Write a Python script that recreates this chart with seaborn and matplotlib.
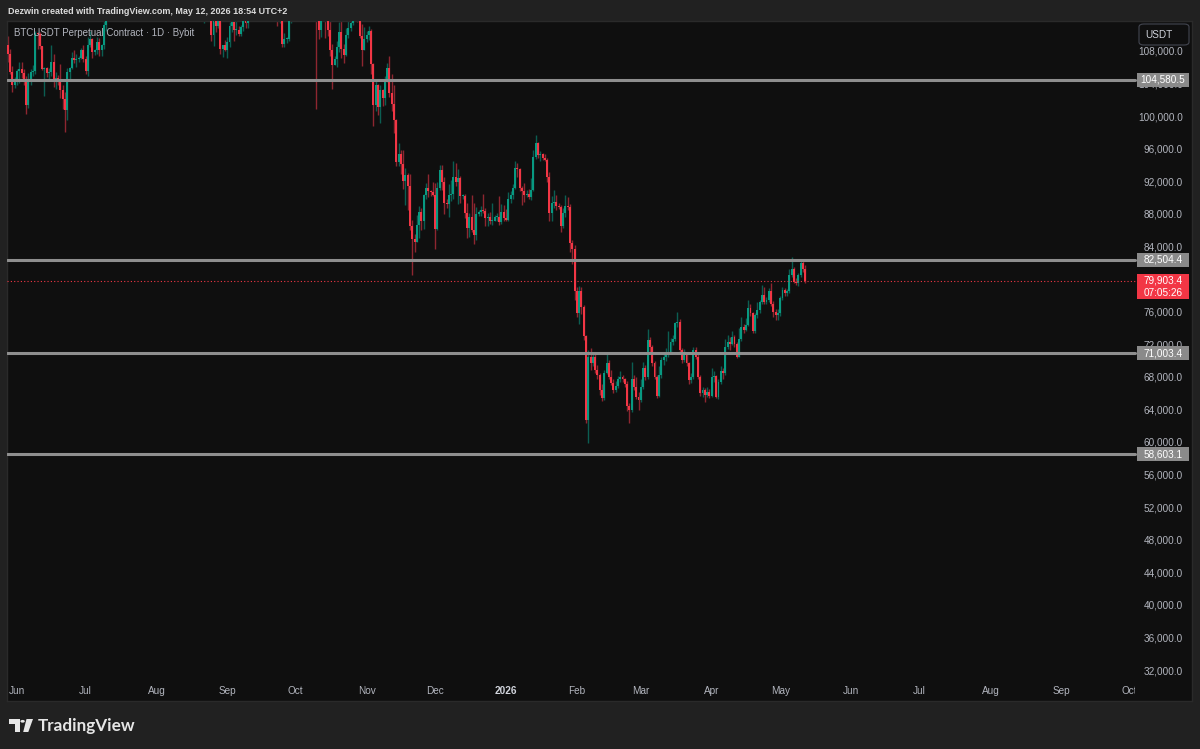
import numpy as np
import pandas as pd
import matplotlib
matplotlib.use("Agg")
import matplotlib.pyplot as plt
import matplotlib.transforms as mtransforms
from matplotlib.patches import Polygon, Circle, FancyBboxPatch, Rectangle
import seaborn as sns

# ---------------- data (thousand USDT, daily candles) ----------------
first_open = 108.9
may25_c = [107.8, 105.6, 103.9, 104.6]
may25_h = [110.0, 108.4, 106.3, 104.9]
may25_l = [106.8, 105.3, 103.1, 103.6]

jun25_c = [105.7, 105.9, 105.4, 104.7, 101.5, 104.3, 105.6, 105.7, 110.3, 110.2, 108.7, 105.9, 106.0, 105.4, 105.5,
           106.8, 104.5, 104.8, 104.6, 103.3, 102.2, 100.9, 105.5, 106.0, 107.3, 107.0, 107.1, 107.3, 108.3, 107.1]
jun25_h = [105.9, 106.8, 106.8, 105.9, 105.0, 105.4, 105.9, 106.4, 110.6, 110.4, 110.4, 108.5, 106.2, 106.2, 106.0,
           108.9, 107.7, 105.5, 105.2, 106.5, 103.9, 103.1, 106.0, 106.2, 108.0, 108.2, 107.8, 107.5, 108.5, 108.8]
jun25_l = [103.9, 104.2, 104.8, 104.0, 100.4, 101.1, 103.9, 105.0, 105.3, 108.4, 108.4, 105.8, 102.6, 104.9, 104.5,
           105.1, 103.7, 103.5, 103.9, 102.4, 101.0, 98.2, 99.6, 104.7, 105.9, 106.6, 106.2, 106.8, 107.1, 106.8]

jul25_c = [105.7, 108.8, 109.6, 108.0, 108.2, 109.2, 108.3, 108.9, 111.3, 115.9, 117.5, 117.4, 119.1, 119.8, 117.7,
           118.7, 119.3, 117.9, 117.9, 117.3, 117.4, 120.0, 118.8, 118.3, 117.6, 117.9, 119.4, 118.0, 117.8, 117.8, 115.8]
jul25_h = [107.5, 109.8, 110.6, 109.7, 108.4, 109.8, 109.7, 109.0, 111.9, 116.8, 118.9, 118.2, 119.5, 123.2, 120.0,
           119.8, 120.9, 120.8, 118.5, 118.9, 119.7, 120.2, 120.0, 119.5, 118.5, 118.3, 119.8, 119.8, 119.3, 118.8, 118.9]
jul25_l = [105.3, 105.1, 108.6, 107.3, 107.6, 107.8, 107.5, 107.5, 108.4, 110.6, 115.3, 116.9, 117.3, 118.9, 116.0,
           115.7, 117.7, 116.9, 117.5, 116.6, 116.5, 116.2, 117.3, 117.5, 114.7, 117.1, 117.7, 117.6, 116.9, 115.8, 115.1]

aug25_c = [113.3, 112.5, 114.2, 115.0, 114.1, 115.0, 117.5, 116.6, 116.5, 119.3, 118.7, 120.1, 123.3, 118.3, 117.4,
           117.5, 117.4, 116.2, 112.9, 114.3, 112.5, 116.9, 115.4, 113.5, 110.1, 111.8, 111.2, 112.6, 108.4, 108.8, 108.2]
aug25_h = [116.1, 114.0, 114.7, 115.7, 115.1, 115.7, 117.6, 117.9, 117.6, 119.3, 122.3, 120.3, 123.7, 124.5, 119.2,
           117.9, 118.6, 117.6, 116.8, 114.6, 114.8, 117.4, 117.0, 115.6, 113.6, 112.4, 112.6, 113.5, 112.7, 108.9, 109.5]
aug25_l = [112.7, 112.0, 112.1, 114.1, 112.7, 113.4, 114.3, 115.9, 116.0, 116.4, 118.2, 118.0, 118.9, 117.3, 116.8,
           117.2, 117.2, 114.7, 112.4, 112.4, 112.4, 111.6, 114.6, 112.1, 109.3, 108.7, 110.4, 110.9, 107.8, 107.4, 108.1]

sep25_c = [109.2, 111.2, 111.7, 110.7, 110.7, 110.2, 111.1, 112.1, 111.5, 113.9, 115.5, 116.1, 115.9, 115.3, 115.3,
           116.8, 116.4, 117.1, 115.7, 115.7, 115.3, 112.7, 112.0, 113.3, 109.0, 109.6, 109.6, 112.1, 114.3, 114.0]
sep25_h = [109.9, 111.7, 112.6, 112.3, 113.4, 111.2, 111.3, 112.9, 113.2, 114.3, 115.6, 116.4, 116.8, 116.1, 116.8,
           117.0, 117.3, 117.9, 117.5, 116.1, 116.0, 115.4, 113.3, 114.0, 113.5, 110.3, 109.8, 112.3, 114.4, 114.8]
sep25_l = [107.3, 108.6, 110.5, 109.3, 110.1, 110.0, 110.0, 110.6, 110.9, 110.9, 113.4, 114.3, 115.3, 114.8, 114.8,
           114.4, 114.8, 116.6, 115.2, 115.5, 114.9, 112.1, 111.2, 111.5, 108.6, 108.6, 109.1, 109.3, 111.6, 112.6]

oct25_c = [118.6, 120.5, 122.2, 122.4, 123.5, 124.7, 121.4, 123.3, 121.7, 113.2, 110.7, 115.2, 115.3, 113.0, 110.7,
           108.2, 106.4, 107.2, 108.6, 110.5, 108.4, 107.6, 110.1, 111.0, 111.6, 114.5, 114.1, 112.9, 110.0, 108.3, 109.6]
oct25_h = [118.7, 121.0, 123.9, 122.9, 125.7, 126.2, 124.9, 124.2, 123.8, 122.5, 113.5, 115.8, 116.0, 115.9, 113.6,
           111.8, 109.0, 107.5, 109.4, 111.7, 114.0, 109.0, 111.0, 112.0, 111.9, 114.8, 116.1, 116.0, 113.6, 111.4, 111.1]
oct25_l = [113.9, 118.0, 119.3, 121.6, 122.3, 123.0, 120.7, 121.1, 119.9, 101.0, 109.6, 109.9, 113.1, 109.7, 110.0,
           107.5, 103.5, 106.4, 106.2, 108.0, 107.3, 106.7, 107.5, 109.7, 110.6, 111.3, 113.6, 111.7, 109.7, 106.3, 108.7]

nov25_c = [110.1, 110.6, 106.5, 101.5, 103.9, 101.3, 103.3, 102.3, 104.7, 106.0, 103.0, 101.6, 99.7, 94.5, 95.5,
           94.2, 92.2, 92.9, 91.5, 86.6, 85.1, 84.7, 86.8, 88.3, 87.3, 90.5, 91.3, 90.9, 90.8, 90.4]
nov25_h = [110.6, 111.2, 110.8, 106.7, 104.5, 104.1, 104.0, 103.4, 105.0, 106.6, 107.5, 105.3, 104.0, 99.8, 96.8,
           96.0, 96.0, 93.8, 93.1, 93.0, 87.4, 85.6, 88.0, 89.1, 88.8, 90.6, 91.9, 93.0, 91.1, 92.0]
nov25_l = [109.2, 109.5, 105.3, 98.9, 100.8, 100.3, 99.3, 101.4, 101.5, 104.3, 102.5, 100.8, 98.0, 94.0, 94.0,
           93.0, 91.2, 89.2, 88.6, 86.1, 80.6, 83.5, 84.7, 85.2, 86.1, 86.3, 90.0, 90.2, 90.3, 90.3]

dec25_c = [86.3, 91.3, 93.5, 92.1, 89.4, 89.3, 90.4, 90.6, 92.7, 92.0, 92.5, 90.3, 90.3, 88.2, 86.4,
           87.8, 86.1, 85.5, 88.1, 88.3, 88.6, 88.5, 87.6, 87.7, 87.2, 87.3, 87.8, 87.8, 87.1, 88.4, 87.6]
dec25_h = [91.9, 92.0, 94.1, 94.1, 92.7, 89.9, 91.8, 92.3, 94.6, 94.4, 93.6, 92.8, 90.6, 90.6, 89.5,
           88.2, 90.4, 89.4, 89.0, 88.6, 89.1, 90.6, 88.9, 88.2, 88.4, 89.5, 88.0, 88.2, 90.3, 89.3, 89.2]
dec25_l = [83.8, 86.2, 91.0, 91.0, 88.1, 88.9, 87.7, 89.7, 89.9, 91.6, 89.3, 89.5, 90.0, 87.6, 85.2,
           85.3, 85.9, 84.4, 84.9, 87.9, 87.9, 88.2, 86.6, 86.6, 86.9, 86.7, 87.3, 87.3, 86.8, 86.9, 87.2]

jan26_c = [87.4, 89.9, 90.4, 91.3, 93.7, 93.6, 91.3, 90.9, 90.5, 90.6, 90.2, 91.0, 95.1, 96.8, 95.4,
           95.5, 95.0, 94.8, 92.6, 88.2, 89.4, 89.6, 89.1, 89.0, 86.6, 88.2, 89.1, 89.0, 84.5, 83.8, 78.6]
jan26_h = [88.7, 90.8, 90.9, 91.8, 94.6, 94.4, 93.7, 91.6, 91.9, 91.0, 91.2, 92.5, 96.0, 97.8, 97.0,
           95.9, 95.6, 95.5, 95.0, 93.3, 90.3, 91.0, 90.4, 89.5, 89.2, 88.9, 90.4, 90.2, 89.3, 84.9, 84.3]
jan26_l = [87.2, 87.3, 89.4, 90.0, 91.2, 92.6, 90.9, 89.2, 89.6, 90.2, 90.0, 89.8, 90.9, 94.9, 95.0,
           94.6, 94.8, 94.6, 92.1, 87.2, 87.3, 88.8, 88.6, 88.7, 85.9, 86.4, 87.8, 88.6, 83.5, 82.0, 77.5]

feb26_c = [75.9, 78.6, 76.7, 73.1, 62.8, 70.6, 69.8, 70.5, 69.0, 68.3, 66.5, 65.5, 68.6, 69.8, 68.1,
           67.4, 66.5, 67.0, 67.8, 68.1, 67.8, 67.3, 64.5, 64.0, 67.9, 66.9, 65.7, 65.3]
feb26_h = [79.2, 79.3, 79.2, 76.9, 73.3, 71.4, 71.6, 71.0, 71.2, 69.6, 68.6, 67.3, 69.0, 70.9, 70.2,
           68.9, 67.9, 67.6, 68.2, 68.8, 68.4, 68.0, 67.6, 64.9, 70.0, 68.3, 68.1, 66.2]
feb26_l = [75.5, 74.6, 75.8, 72.6, 62.4, 60.0, 68.9, 69.4, 68.6, 67.9, 65.9, 65.1, 65.3, 68.5, 67.8,
           67.1, 66.1, 66.2, 66.7, 67.5, 67.5, 66.9, 63.9, 62.4, 63.8, 66.5, 65.4, 64.0]

mar26_c = [66.9, 69.2, 68.1, 72.6, 71.8, 69.8, 68.1, 65.8, 68.3, 70.2, 70.6, 71.0, 71.2, 72.4, 72.8,
           74.7, 74.9, 71.4, 70.2, 71.0, 69.8, 67.7, 68.1, 71.4, 70.6, 68.1, 66.1, 66.5, 65.9, 66.3, 65.8]
mar26_h = [67.9, 70.0, 69.6, 74.0, 73.0, 72.0, 70.1, 68.4, 69.4, 70.6, 71.2, 71.6, 73.7, 72.9, 73.2,
           74.9, 76.1, 75.2, 71.7, 71.5, 71.2, 70.0, 68.6, 71.8, 71.8, 70.9, 68.3, 66.9, 66.8, 66.9, 66.6]
mar26_l = [65.0, 66.6, 67.7, 67.9, 71.2, 69.4, 67.8, 65.5, 65.6, 68.0, 69.6, 70.1, 70.6, 70.9, 72.0,
           72.5, 74.2, 71.0, 69.8, 69.9, 69.4, 67.3, 67.4, 67.9, 70.3, 67.8, 65.8, 65.7, 65.0, 65.6, 65.5]

apr26_c = [68.1, 68.2, 65.7, 67.5, 68.8, 68.6, 71.8, 72.4, 72.2, 73.0, 72.1, 70.6, 72.8, 74.2, 73.9,
           74.5, 76.6, 75.9, 73.7, 75.7, 76.3, 77.3, 78.2, 77.3, 77.5, 78.6, 77.1, 76.1, 75.7, 75.9]
apr26_h = [69.2, 68.8, 68.4, 67.9, 69.5, 69.2, 72.8, 73.2, 73.0, 73.7, 73.3, 72.4, 74.1, 75.5, 74.6,
           75.3, 77.6, 77.1, 76.1, 76.0, 77.3, 77.6, 79.4, 79.2, 77.9, 79.0, 79.6, 77.4, 76.4, 76.5]
apr26_l = [65.6, 67.5, 65.5, 65.4, 67.2, 67.9, 68.4, 71.5, 71.4, 72.0, 71.8, 70.4, 70.5, 72.5, 73.5,
           73.7, 74.3, 75.6, 73.5, 73.5, 75.4, 76.0, 77.0, 77.0, 77.1, 77.3, 76.8, 75.5, 75.1, 75.1]

may26_c = [77.8, 78.8, 78.4, 78.6, 80.6, 81.4, 79.8, 79.6, 80.6, 82.1, 81.4, 79.9034]
may26_h = [78.1, 79.2, 79.0, 78.9, 81.4, 82.8, 81.6, 80.2, 80.9, 82.3, 82.4, 81.8]
may26_l = [75.6, 77.6, 78.1, 78.0, 78.4, 80.4, 79.6, 79.4, 79.3, 80.4, 81.0, 79.6]

levels = [104580.5, 82504.4, 71003.4, 58603.1]
level_labels = ["104,580.5", "82,504.4", "71,003.4", "58,603.1"]
price_ticks = [108000, 104000, 100000, 96000, 92000, 88000, 84000, 80000, 76000, 72000, 68000, 64000,
               60000, 56000, 52000, 48000, 44000, 40000, 36000, 32000]
month_ticks = ["2025-06-01", "2025-07-01", "2025-08-01", "2025-09-01", "2025-10-01", "2025-11-01",
               "2025-12-01", "2026-01-01", "2026-02-01", "2026-03-01", "2026-04-01", "2026-05-01",
               "2026-06-01", "2026-07-01", "2026-08-01", "2026-09-01", "2026-10-01"]
month_labels = ["Jun", "Jul", "Aug", "Sep", "Oct", "Nov", "Dec", "2026", "Feb", "Mar", "Apr", "May",
                "Jun", "Jul", "Aug", "Sep", "Oct"]
last_price_label = "79,903.4"
countdown_label = "07:05:26"

# ---------------- assemble ----------------
close = np.array(may25_c + jun25_c + jul25_c + aug25_c + sep25_c + oct25_c + nov25_c + dec25_c +
                 jan26_c + feb26_c + mar26_c + apr26_c + may26_c) * 1000
high = np.array(may25_h + jun25_h + jul25_h + aug25_h + sep25_h + oct25_h + nov25_h + dec25_h +
                jan26_h + feb26_h + mar26_h + apr26_h + may26_h) * 1000
low = np.array(may25_l + jun25_l + jul25_l + aug25_l + sep25_l + oct25_l + nov25_l + dec25_l +
               jan26_l + feb26_l + mar26_l + apr26_l + may26_l) * 1000
opn = np.r_[first_open * 1000, close[:-1]]
high = np.maximum(high, np.maximum(opn, close))
low = np.minimum(low, np.minimum(opn, close))
dates = pd.date_range("2025-05-28", "2026-05-12", freq="D")
assert len(dates) == len(close)
origin = pd.Timestamp("2025-06-01")
x = np.asarray((dates - origin).days, dtype=float)
df = pd.DataFrame({"x": x, "open": opn, "high": high, "low": low, "close": close})
df["up"] = df["close"] >= df["open"]

# ---------------- style ----------------
W, H = 1200, 749
OUTER = "#212121"
PANEL = "#0f0f0f"
UP, DOWN = "#089981", "#f23645"
UP_W, DOWN_W = "#0b5e52", "#8e2630"
TXT = "#b2b5be"

sns.set_theme(style="dark", rc={"axes.facecolor": PANEL, "figure.facecolor": OUTER})
plt.rcParams["font.family"] = ["Liberation Sans", "DejaVu Sans"]

fig = plt.figure(figsize=(W / 100, H / 100), dpi=100)
fig.patch.set_facecolor(OUTER)

def fx(px):
    return px / W

def fy(py):
    return 1 - py / H

# panel spans x 7..1192, y 21..701 (pixels)
P_L, P_R, P_T, P_B = 7, 1192, 21, 701
ax = fig.add_axes([fx(P_L), fy(P_B), fx(P_R - P_L), (P_B - P_T) / H])
ax.set_facecolor(PANEL)

# scales: x pixel = 17 + 2.285*day ; y pixel = 52 + (108000 - p)*0.008145
px_per_day = 2.285
px_per_usd = 0.008145
ax.set_xlim((P_L - 17) / px_per_day, (P_R - 17) / px_per_day)
ax.set_ylim(108000 - (P_B - 52) / px_per_usd, 108000 + (52 - P_T) / px_per_usd)
ax.set_xticks([])
ax.set_yticks([])
for s in ax.spines.values():
    s.set_color("#2a2a2a")
    s.set_linewidth(1)

# candles
up = df[df["up"]]
dn = df[~df["up"]]
ax.vlines(up["x"], up["low"], up["high"], color=UP_W, lw=1.0, zorder=2)
ax.vlines(dn["x"], dn["low"], dn["high"], color=DOWN_W, lw=1.0, zorder=2)
min_h = 1.0 / px_per_usd
for sub, col in ((up, UP), (dn, DOWN)):
    bottom = np.minimum(sub["open"], sub["close"])
    hgt = np.maximum(np.abs(sub["close"] - sub["open"]), min_h)
    ax.bar(sub["x"], hgt, bottom=bottom, width=0.85, color=col, linewidth=0, zorder=3)

# horizontal levels (end at price scale, x=1135)
chart_frac = (1135 - P_L) / (P_R - P_L)
for lv in levels:
    ax.axhline(lv, xmin=0, xmax=chart_frac, color="#8e8e8e", lw=2.2, zorder=4)
ax.axhline(close[-1], xmin=0, xmax=chart_frac, color=DOWN, lw=0.8, ls=(0, (1, 2)), zorder=4)

blend = mtransforms.blended_transform_factory(ax.transAxes, ax.transData)
lab_x = (1183 - P_L) / (P_R - P_L)
box_x0 = (1137 - P_L) / (P_R - P_L)
box_w = (1189 - 1137) / (P_R - P_L)

# price scale tick labels
for p in price_ticks:
    ax.text(lab_x, p, f"{p:,.1f}", transform=blend, ha="right", va="center",
            fontsize=7.2, color=TXT, zorder=5, clip_on=False)

# level label boxes
box_h = 14 / px_per_usd
for lv, lab in zip(levels, level_labels):
    ax.add_patch(Rectangle((box_x0, lv - box_h / 2), box_w, box_h, transform=blend,
                           facecolor="#8a8a8a", edgecolor="none", zorder=6, clip_on=False))
    ax.text(box_x0 + box_w / 2, lv, lab, transform=blend, ha="center", va="center",
            fontsize=7.2, color="white", zorder=7, clip_on=False)

# last price label
cp = close[-1]
top_p = cp + 7 / px_per_usd
ax.add_patch(Rectangle((box_x0, top_p - 25 / px_per_usd), box_w, 25 / px_per_usd, transform=blend,
                       facecolor=DOWN, edgecolor="none", zorder=6, clip_on=False))
ax.text(box_x0 + box_w / 2, cp, last_price_label, transform=blend, ha="center", va="center",
        fontsize=7.2, color="white", zorder=7, clip_on=False)
ax.text(box_x0 + box_w / 2, cp - 12 / px_per_usd, countdown_label, transform=blend, ha="center",
        va="center", fontsize=7.2, color="white", zorder=7, clip_on=False)

# time axis labels
time_y = (P_B - 691) / (P_B - P_T)
tblend = mtransforms.blended_transform_factory(ax.transData, ax.transAxes)
for d, lab in zip(month_ticks, month_labels):
    xd = (pd.Timestamp(d) - origin).days
    ax.text(xd, time_y, lab, transform=tblend, ha="center", va="center", fontsize=7.2,
            color="#d1d4dc" if lab == "2026" else TXT, fontweight="bold" if lab == "2026" else "normal",
            zorder=5)
# cover the time label spilling under the price scale
ax.add_patch(Rectangle((chart_frac, 0.002), 1 - chart_frac - 0.002, (P_B - 680) / (P_B - P_T),
                       transform=ax.transAxes, facecolor=PANEL, edgecolor="none", zorder=8))

# USDT box
fig.add_artist(FancyBboxPatch((fx(1139), fy(45)), fx(50), 21 / H, boxstyle="round,pad=0,rounding_size=0.004",
                              transform=fig.transFigure, facecolor=PANEL, edgecolor="#434651", lw=0.8))
fig.text(fx(1145), fy(34.5), "USDT", fontsize=7.2, color="#d1d4dc", ha="left", va="center")

# header texts
fig.text(fx(8), fy(11), "Dezwin created with TradingView.com, May 12, 2026 18:54 UTC+2",
         fontsize=6.5, color="#dcdcdc", fontweight="bold", ha="left", va="center")
fig.text(fx(14), fy(33.5), "BTCUSDT Perpetual Contract \u00b7 1D \u00b7 Bybit",
         fontsize=7, color=TXT, ha="left", va="center")

# TradingView logo
def P(pts):
    return [(fx(a), fy(b)) for a, b in pts]

fig.add_artist(Polygon(P([(9, 719), (19.5, 719), (19.5, 732), (15, 732), (15, 723.5), (9, 723.5)]),
                       closed=True, transform=fig.transFigure, facecolor="#e6e6e6", edgecolor="none"))
fig.add_artist(Circle((fx(22.6), fy(721.3)), 2.2 / W, transform=fig.transFigure,
                      facecolor="#e6e6e6", edgecolor="none"))
fig.add_artist(Polygon(P([(26.5, 719), (33, 719), (28.3, 732), (23.2, 732)]),
                       closed=True, transform=fig.transFigure, facecolor="#e6e6e6", edgecolor="none"))
fig.text(fx(38), fy(725.5), "TradingView", fontsize=12.3, color="#e6e6e6", fontweight="bold",
         family=["Lato", "DejaVu Sans"], ha="left", va="center")

fig.savefig("out.png", dpi=100, facecolor=OUTER)
